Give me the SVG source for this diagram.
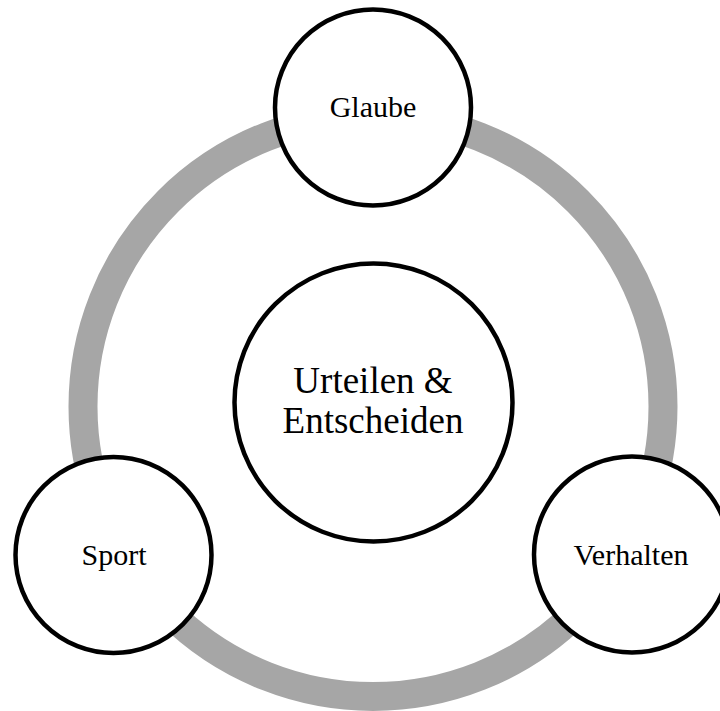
<svg xmlns="http://www.w3.org/2000/svg" width="720" height="711" viewBox="0 0 720 711">
<style>
.node{fill:#fff;stroke:#000;stroke-width:4.5}
.lbl{font-family:"Liberation Serif","Times New Roman",serif;fill:#000;text-anchor:middle}
</style>
<rect width="720" height="711" fill="#fff"/>
<g id="connectors">
<circle cx="373" cy="406.5" r="290" fill="none" stroke="#A6A6A6" stroke-width="29"/>
</g>
<g id="center">
<circle class="node" cx="373.5" cy="402.5" r="139" stroke-width="4"/>
<text class="lbl" x="373" y="393" font-size="37">Urteilen &amp;</text>
<text class="lbl" x="373" y="433" font-size="37">Entscheiden</text>
</g>
<g id="glaube">
<circle class="node" cx="373" cy="107.5" r="98"/>
<text class="lbl" x="373" y="117" font-size="30">Glaube</text>
</g>
<g id="sport">
<circle class="node" cx="113.5" cy="555" r="98"/>
<text class="lbl" x="114" y="565" font-size="30">Sport</text>
</g>
<g id="verhalten">
<circle class="node" cx="632" cy="554.5" r="98"/>
<text class="lbl" x="631" y="565" font-size="30">Verhalten</text>
</g>
</svg>
